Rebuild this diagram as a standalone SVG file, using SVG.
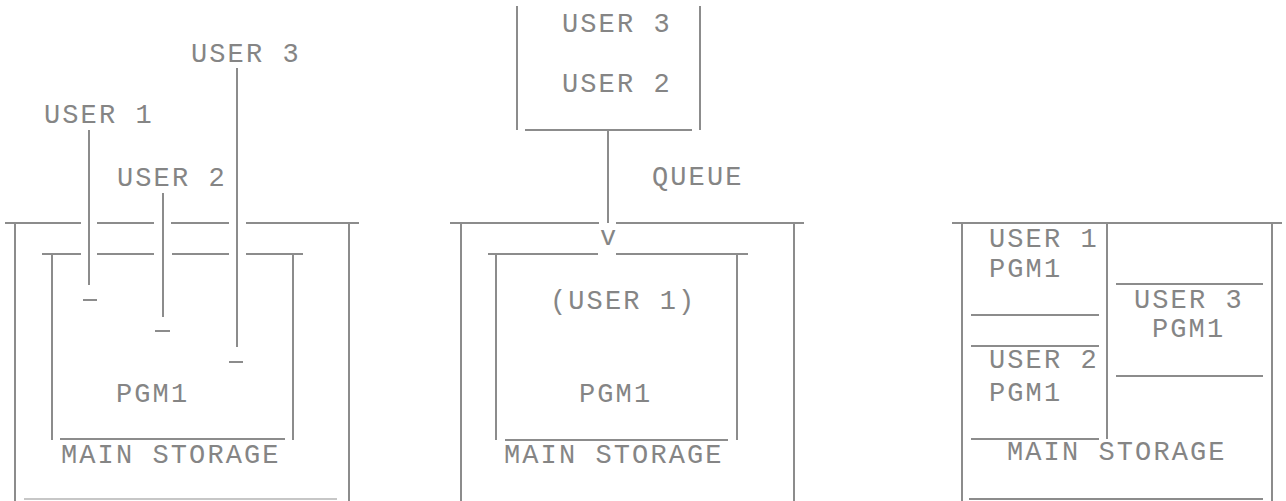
<svg xmlns="http://www.w3.org/2000/svg" width="1286" height="501" viewBox="0 0 1286 501">
<style>
  .ln{stroke:#8c8c8c;stroke-width:2;fill:none;stroke-linecap:butt}
  .faint{stroke:#b5b5b5;stroke-width:1.5;fill:none}
  .t{font-family:"Liberation Mono","Courier New",monospace;font-size:27px;letter-spacing:2.1px;fill:#858585}
</style>
<rect x="0" y="0" width="1286" height="501" fill="#ffffff"/>

<!-- Panel 1 -->
<g id="panel1-storage">
  <path class="ln" d="M5 223H81M97 223H154M171 223H229M246 223H359"/>
  <path class="ln" d="M15 223V501M349 223V501"/>
  <path class="ln" d="M42 254H81M97 254H154M172 254H229M246 254H303"/>
  <path class="ln" d="M52 254V440M293 254V440"/>
  <path class="ln" d="M60 439H285"/>
  <path class="faint" d="M24 499H337"/>
  <text class="t" x="116" y="402">PGM1</text>
  <text class="t" x="61" y="463">MAIN STORAGE</text>
</g>
<g id="panel1-user1"><text class="t" x="44" y="123">USER 1</text></g>
<g id="panel1-user2"><text class="t" x="117" y="186">USER 2</text></g>
<g id="panel1-user3"><text class="t" x="191" y="62">USER 3</text></g>

<!-- Panel 2 -->
<g id="panel2-queue">
  <path class="ln" d="M517 6V130M700 6V130M525 130H692"/>
  <text class="t" x="562" y="32">USER 3</text>
  <text class="t" x="562" y="92">USER 2</text>
  <text class="t" x="652" y="185">QUEUE</text>
</g>
<g id="panel2-storage">
  <path class="ln" d="M450 223H599M616 223H804"/>
  <path class="ln" d="M461 223V501M794 223V501"/>
  <path class="ln" d="M488 254H598M616 254H748"/>
  <path class="ln" d="M496 254V440M737 254V440"/>
  <path class="ln" d="M505 440H728"/>
  <text class="t" x="600" y="245">v</text>
  <text class="t" x="550" y="309">(USER 1)</text>
  <text class="t" x="579" y="402">PGM1</text>
  <text class="t" x="504" y="463">MAIN STORAGE</text>
</g>

<!-- Panel 3 -->
<g id="panel3-storage">
  <path class="ln" d="M952 223H1282"/>
  <path class="ln" d="M962 223V501M1272 223V501"/>
  <path class="ln" d="M1107 223V439"/>
  <path class="ln" d="M969 499H1263"/>
  <text class="t" x="1007" y="460">MAIN STORAGE</text>
</g>
<g id="panel3-user1">
  <text class="t" x="989" y="247">USER 1</text>
  <text class="t" x="989" y="277">PGM1</text>
  <path class="ln" d="M971 315H1099"/>
</g>
<g id="panel3-user2">
  <path class="ln" d="M971 346H1099"/>
  <text class="t" x="989" y="368">USER 2</text>
  <text class="t" x="989" y="401">PGM1</text>
  <path class="ln" d="M971 439H1099"/>
</g>
<g id="panel3-user3">
  <path class="ln" d="M1116 284H1263"/>
  <text class="t" x="1134" y="308">USER 3</text>
  <text class="t" x="1152" y="337">PGM1</text>
  <path class="ln" d="M1116 376H1263"/>
</g>

<!-- Connectors -->
<g id="connectors">
  <path class="ln" d="M89 130V285M83 300H97"/>
  <path class="ln" d="M163 193V317M155 331H170"/>
  <path class="ln" d="M237 68V347M229 362H243"/>
  <path class="ln" d="M608 130V223"/>
</g>
</svg>
